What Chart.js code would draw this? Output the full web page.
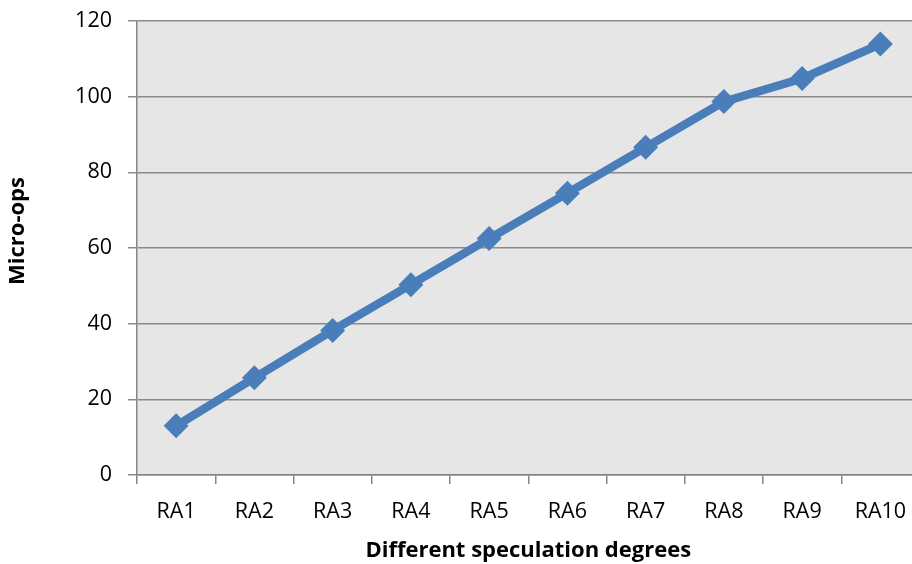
<!DOCTYPE html>
<html>
<head>
<meta charset="utf-8">
<script src="https://cdn.jsdelivr.net/npm/chart.js@4/dist/chart.umd.min.js"></script>
<style>
  html, body { margin: 0; padding: 0; background: #ffffff; overflow: hidden; }
  #wrap { width: 912px; height: 564px; overflow: hidden; }
</style>
</head>
<body>
<div id="wrap"><canvas id="c" width="932" height="564"></canvas></div>
<script>
// Micro-ops issued per speculation degree
const categories = ['RA1', 'RA2', 'RA3', 'RA4', 'RA5', 'RA6', 'RA7', 'RA8', 'RA9', 'RA10'];
const microOps = [13.0, 25.7, 38.2, 50.3, 62.5, 74.5, 86.6, 98.7, 104.8, 113.9];
const yTicks = [0, 20, 40, 60, 80, 100, 120];

const FONT = '"Open Sans", "Liberation Sans", sans-serif';
const yTitle = 'Micro-ops';

// Grey fill behind the plotting area
const plotBackground = {
  id: 'plotBackground',
  beforeDraw(chart) {
    const { ctx, chartArea: a } = chart;
    ctx.save();
    ctx.fillStyle = '#e6e6e6';
    ctx.fillRect(a.left, a.top, a.right - a.left, a.bottom - a.top);
    ctx.restore();
  }
};

// Rotated value-axis title, placed slightly above the plot's middle
const valueAxisTitle = {
  id: 'valueAxisTitle',
  afterDraw(chart) {
    const { ctx, chartArea: a } = chart;
    ctx.save();
    ctx.translate(18, (a.top + a.bottom) / 2 - 17);
    ctx.rotate(-Math.PI / 2);
    ctx.fillStyle = '#000000';
    ctx.font = 'bold 22px ' + FONT;
    ctx.textAlign = 'center';
    ctx.textBaseline = 'middle';
    ctx.fillText(yTitle, 0, 0);
    ctx.restore();
  }
};

new Chart(document.getElementById('c'), {
  type: 'line',
  data: {
    labels: categories,
    datasets: [{
      data: microOps,
      borderColor: '#4a7ebb',
      backgroundColor: '#4a7ebb',
      borderWidth: 8.5,
      pointStyle: 'rectRot',
      pointRadius: 12.5,
      pointHoverRadius: 12.5,
      pointBorderWidth: 0,
      tension: 0
    }]
  },
  options: {
    responsive: false,
    animation: false,
    layout: { padding: { left: 0, top: 21, right: 0, bottom: 0 } },
    plugins: {
      legend: { display: false },
      tooltip: { enabled: false }
    },
    scales: {
      x: {
        offset: true,
        grid: {
          offset: true,
          drawOnChartArea: false,
          drawTicks: true,
          tickLength: 9,
          color: '#868686',
          lineWidth: 1.5
        },
        border: { display: true, color: '#868686', width: 1.5 },
        ticks: {
          color: '#000000',
          font: { family: FONT, size: 21.5 },
          padding: 15,
          maxRotation: 0
        },
        title: {
          display: true,
          text: 'Different speculation degrees',
          color: '#000000',
          font: { family: FONT, size: 22, weight: 'bold' },
          padding: { top: 0, bottom: 0 }
        },
        afterFit(scale) {
          scale.height = 89;
          scale.paddingLeft = 0;
          scale.paddingRight = 0;
        }
      },
      y: {
        min: 0,
        max: 120,
        afterBuildTicks(scale) { scale.ticks = yTicks.map(v => ({ value: v })); },
        grid: {
          color: '#8a8a8a',
          lineWidth: 1.5,
          drawTicks: true,
          tickLength: 9
        },
        border: { display: true, color: '#868686', width: 1.5 },
        ticks: {
          color: '#000000',
          font: { family: FONT, size: 21.5 },
          padding: 16
        },
        afterFit(scale) {
          scale.width = 137;
          scale.paddingTop = 0;
          scale.paddingBottom = 0;
        }
      }
    }
  },
  plugins: [plotBackground, valueAxisTitle]
});
</script>
</body>
</html>
